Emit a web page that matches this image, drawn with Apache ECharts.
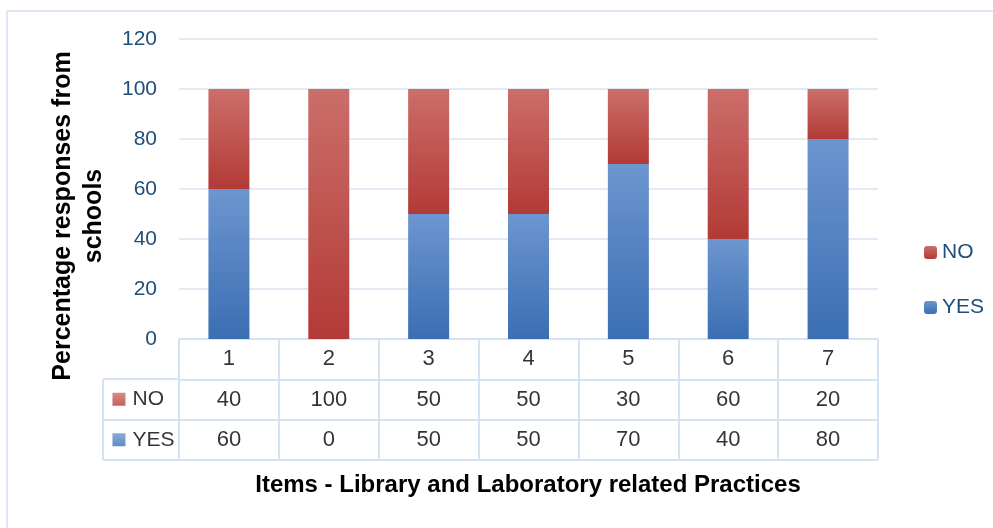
<!DOCTYPE html>
<html><head><meta charset="utf-8">
<script src="https://cdn.jsdelivr.net/npm/echarts@6/dist/echarts.min.js"></script>
<style>html,body{margin:0;padding:0;background:#fff}#c{width:993px;height:528px}</style>
</head><body><div id="c"></div>
<script>
// ---- data ----
const categories = ['1', '2', '3', '4', '5', '6', '7'];
const noValues = [40, 100, 50, 50, 30, 60, 20];
const yesValues = [60, 0, 50, 50, 70, 40, 80];
const seriesNames = ['NO', 'YES'];
const yTickMin = 0, yTickMax = 120, yTickStep = 20;
const yTitle = 'Percentage responses from\nschools';
const xTitle = 'Items - Library and Laboratory related Practices';

// ---- style ----
const FONT = 'Liberation Sans';
const lineCol = '#D6E3F3';
const redGrad = new echarts.graphic.LinearGradient(0, 0, 0, 1, [{offset: 0, color: '#CB6E6A'}, {offset: 1, color: '#B33A36'}]);
const blueGrad = new echarts.graphic.LinearGradient(0, 0, 0, 1, [{offset: 0, color: '#6C96CF'}, {offset: 1, color: '#3B6EB3'}]);
const L = 179, R = 878, T = 39, B = 339, TB = 460, LC = 103, RW = 40;

const chart = echarts.init(document.getElementById('c'), null, {renderer: 'canvas'});

const tableText = (rowY, vals) => vals.map((v, i) => [i, rowY, v]);

chart.setOption({
  animation: false,
  backgroundColor: '#fff',
  textStyle: {fontFamily: FONT},
  legend: {
    data: seriesNames, orient: 'vertical', left: 919, top: 237,
    itemWidth: 13, itemHeight: 13, itemGap: 34,
    textStyle: {fontSize: 21, color: '#1F4E79', fontFamily: FONT}
  },
  grid: [
    {left: L, right: 993 - R, top: T, bottom: 528 - B},
    {left: L, width: R - L, top: B, height: TB - B},
    {left: LC, width: L - LC, top: B + RW, height: TB - B - RW}
  ],
  xAxis: [
    {type: 'category', data: categories, gridIndex: 0, axisLine: {show: false}, axisTick: {show: false}, axisLabel: {show: false}},
    {type: 'category', data: categories, gridIndex: 1, axisLine: {show: false}, axisTick: {show: false}, axisLabel: {show: false},
     splitLine: {show: true, lineStyle: {color: lineCol, width: 2}}},
    {type: 'value', min: 0, max: 1, interval: 1, gridIndex: 2, axisLine: {show: false}, axisTick: {show: false}, axisLabel: {show: false},
     splitLine: {show: true, lineStyle: {color: lineCol, width: 2}}}
  ],
  yAxis: [
    {type: 'value', min: yTickMin, max: yTickMax, interval: yTickStep, gridIndex: 0,
     axisLine: {show: false}, axisTick: {show: false},
     axisLabel: {margin: 22, fontSize: 21, color: '#1F4E79', fontFamily: FONT},
     splitLine: {lineStyle: {color: '#D9E4F2', width: 1.5}}},
    {type: 'value', min: 0, max: 3, interval: 1, gridIndex: 1, axisLine: {show: true, lineStyle: {color: lineCol, width: 2}}, axisTick: {show: false}, axisLabel: {show: false},
     splitLine: {show: true, lineStyle: {color: lineCol, width: 2}}},
    {type: 'value', min: 0, max: 2, interval: 1, gridIndex: 2, axisLine: {show: false}, axisTick: {show: false}, axisLabel: {show: false},
     splitLine: {show: true, lineStyle: {color: lineCol, width: 2}}}
  ],
  series: [
    {name: 'YES', type: 'bar', stack: 'a', data: yesValues, barWidth: 41, itemStyle: {color: blueGrad}},
    {name: 'NO', type: 'bar', stack: 'a', data: noValues, barWidth: 41, itemStyle: {color: redGrad}},
    {type: 'scatter', xAxisIndex: 1, yAxisIndex: 1, symbolSize: 0, silent: true,
     data: tableText(2.5, categories).concat(tableText(1.5, noValues), tableText(0.5, yesValues)),
     label: {show: true, position: 'inside', formatter: p => String(p.data[2]), fontSize: 22, color: '#000', fontFamily: FONT}},
    {type: 'scatter', xAxisIndex: 2, yAxisIndex: 2, symbol: 'rect', symbolSize: 13, silent: true,
     data: [
       {value: [0.21, 1.5], name: seriesNames[0], itemStyle: {color: redGrad}},
       {value: [0.21, 0.5], name: seriesNames[1], itemStyle: {color: blueGrad}}
     ],
     label: {show: true, position: 'right', distance: 7, formatter: p => p.name, fontSize: 21, color: '#000', fontFamily: FONT}}
  ],
  graphic: [
    {type: 'rect', silent: true, shape: {x: 7, y: 11, width: 1100, height: 700}, style: {fill: 'none', stroke: '#D3E0F1', lineWidth: 1.5}},
    {type: 'text', x: 79, y: 216, rotation: Math.PI / 2,
     style: {text: yTitle, fill: '#000', align: 'center', verticalAlign: 'middle', lineHeight: 31, font: 'bold 25px ' + FONT}},
    {type: 'text', x: 528, y: 485,
     style: {text: xTitle, fill: '#000', align: 'center', verticalAlign: 'middle', font: 'bold 24px ' + FONT}}
  ]
});
</script></body></html>
